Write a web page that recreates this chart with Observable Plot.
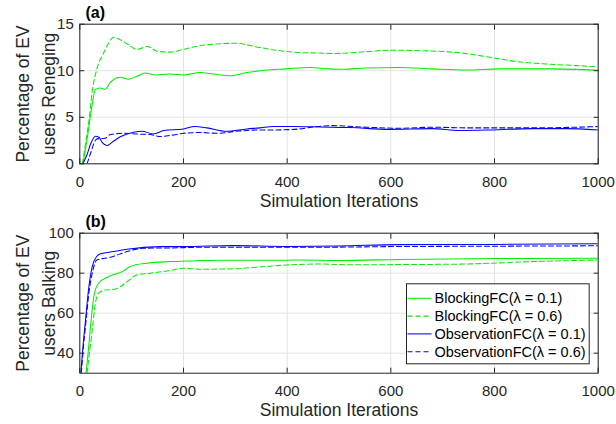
<!DOCTYPE html>
<html><head><meta charset="utf-8">
<script src="https://cdn.jsdelivr.net/npm/d3@7"></script>
<script src="https://cdn.jsdelivr.net/npm/@observablehq/plot@0.6"></script>
<style>
body{margin:0;background:#fff;}
#wrap{position:relative;width:616px;height:424px;font-family:"Liberation Sans",Arial,sans-serif;overflow:hidden;}
#wrap svg{display:block;}
#legend{position:absolute;left:0;top:0;pointer-events:none;}
</style></head><body><div id="wrap"></div>
<script>
// ---------- data ----------
const seriesNames = ["BlockingFC(λ = 0.1)", "BlockingFC(λ = 0.6)", "ObservationFC(λ = 0.1)", "ObservationFC(λ = 0.6)"];
const xTicks = [0, 200, 400, 600, 800, 1000];
const renegeTicks = [0, 5, 10, 15];
const balkTicks = [40, 60, 80, 100];

// (a) Reneging
const renegeBlock01X = [6, 15, 24, 30, 40, 49, 59, 78, 94, 110, 126, 146, 174, 200, 232, 258, 290, 322, 348, 399, 444, 480, 507, 553, 617, 680, 745, 809, 905, 1000];
const renegeBlock01Y = [0, 3.0, 6.4, 8.0, 8.15, 8.0, 8.75, 9.3, 9.1, 9.4, 9.75, 9.55, 9.65, 9.55, 9.8, 9.65, 9.46, 9.8, 10.0, 10.2, 10.35, 10.2, 10.15, 10.3, 10.35, 10.2, 10.08, 10.2, 10.2, 10.05];
const renegeBlock06X = [5, 12, 18, 24, 33, 45, 55, 65, 75, 91, 110, 130, 149, 174, 200, 232, 271, 300, 347, 380, 425, 463, 488, 553, 597, 661, 745, 796, 841, 905, 960, 1000];
const renegeBlock06Y = [0, 2.5, 4.8, 7.8, 10.2, 11.8, 12.9, 13.6, 13.4, 12.9, 12.3, 12.6, 12.1, 12.0, 12.3, 12.7, 12.9, 12.95, 12.5, 12.2, 11.95, 11.9, 11.85, 12.05, 12.2, 12.15, 11.85, 11.4, 11.0, 10.7, 10.55, 10.4];
const renegeObs01X = [6, 14, 21, 30, 37, 43, 53, 62, 78, 104, 120, 142, 162, 200, 222, 245, 283, 322, 348, 373, 412, 463, 520, 597, 680, 732, 796, 873, 937, 1000];
const renegeObs01Y = [0, 1.0, 2.15, 2.96, 2.85, 2.3, 1.96, 2.3, 2.9, 3.4, 3.5, 3.2, 3.57, 3.75, 4.0, 3.86, 3.5, 3.75, 3.86, 4.0, 4.0, 3.95, 3.9, 3.7, 3.78, 3.57, 3.64, 3.78, 3.78, 3.64];
const renegeObs06X = [14, 20, 27, 33, 49, 59, 85, 110, 136, 155, 175, 200, 232, 264, 303, 348, 380, 424, 456, 488, 553, 617, 680, 745, 809, 873, 1000];
const renegeObs06Y = [0, 1.0, 2.15, 2.68, 2.75, 3.14, 3.28, 3.2, 3.14, 2.93, 3.05, 3.28, 3.36, 3.28, 3.5, 3.64, 3.64, 3.75, 4.0, 4.1, 3.93, 3.82, 3.93, 3.86, 3.86, 3.86, 4.0];

// (b) Balking
const balkBlock01X = [12, 16, 20, 24, 27, 36, 53, 69, 82, 97, 129, 174, 232, 271, 400, 424, 500, 617, 809, 1000];
const balkBlock01Y = [30, 40, 51.5, 62, 68.2, 75, 78, 79.6, 80.8, 83.3, 85, 85.8, 86.3, 86.5, 86.5, 86.6, 86.4, 86.9, 87.3, 87.5];
const balkBlock06X = [14, 19, 24, 30, 36, 49, 65, 78, 91, 110, 136, 174, 200, 232, 296, 350, 399, 463, 520, 617, 745, 873, 1000];
const balkBlock06Y = [30, 41, 51.5, 64.9, 69.9, 71.6, 71.9, 73.2, 75.7, 79.1, 80, 81.3, 82.5, 82, 82.2, 83.2, 84.1, 84.6, 84.2, 84.3, 84.6, 85.8, 86.6];
const balkObs01X = [2, 6, 11, 17.5, 24, 33, 40, 65, 91, 155, 200, 296, 400, 500, 617, 800, 1000];
const balkObs01Y = [30, 43, 56.5, 73.2, 83.3, 88.5, 89.7, 90.8, 92, 93.3, 93.3, 93.8, 93.4, 93.6, 94.3, 94.4, 94.7];
const balkObs06X = [3, 7, 12, 18, 24, 33, 59, 91, 123, 167, 250, 350, 463, 600, 800, 1000];
const balkObs06Y = [30, 43, 56, 71, 80, 86.6, 88, 90.8, 92.5, 92.6, 93.0, 93.0, 93.0, 93.3, 93.5, 93.7];

// ---------- build tables ----------
const toRows = (xs, ys, s) => xs.map((x, i) => ({x, y: ys[i], s}));
const renege = [
  toRows(renegeBlock01X, renegeBlock01Y, 0), toRows(renegeBlock06X, renegeBlock06Y, 1),
  toRows(renegeObs01X, renegeObs01Y, 2), toRows(renegeObs06X, renegeObs06Y, 3)
];
const balk = [
  toRows(balkBlock01X, balkBlock01Y, 0), toRows(balkBlock06X, balkBlock06Y, 1),
  toRows(balkObs01X, balkObs01Y, 2), toRows(balkObs06X, balkObs06Y, 3)
];

const GREEN = "#00ee00", BLUE = "#0000ff", INK = "#262626", GRID = "#e3e3e3";
const colorOf = [GREEN, GREEN, BLUE, BLUE];
const dashOf = [null, "5,3", null, "5,3"];
const fmt = d => String(d);

function panel({series, yDomain, yTicks, title, ylabel, marginTop, marginBottom}) {
  const lines = series.map((rows, k) => Plot.line(rows, {
    x: "x", y: "y", stroke: colorOf[k], strokeWidth: 1.05,
    strokeDasharray: dashOf[k], curve: "monotone-x", clip: true
  }));
  return Plot.plot({
    width: 616, height: 212,
    marginLeft: 79.3, marginRight: 18.3, marginTop, marginBottom,
    style: {fontFamily: '"Liberation Sans", Arial, sans-serif', fontSize: "15px", color: INK, background: "#fff", overflow: "visible"},
    x: {domain: [0, 1000], label: null},
    y: {domain: yDomain, label: null},
    marks: [
      Plot.gridX(xTicks, {stroke: GRID, strokeOpacity: 1}),
      Plot.gridY(yTicks, {stroke: GRID, strokeOpacity: 1}),
      ...lines,
      Plot.frame({stroke: INK, strokeWidth: 1}),
      Plot.axisX(xTicks, {anchor: "bottom", tickSize: 5, dy: -5, text: null, stroke: INK, label: null}),
      Plot.axisX(xTicks, {anchor: "top", tickSize: 5, dy: 5, text: null, stroke: INK, label: null}),
      Plot.axisX(xTicks, {anchor: "bottom", tickSize: 0, tickPadding: 12.5, tickFormat: fmt, fill: INK, fontSize: 15, label: null}),
      Plot.axisY(yTicks, {anchor: "left", tickSize: 5, dx: 5, text: null, stroke: INK, label: null}),
      Plot.axisY(yTicks, {anchor: "right", tickSize: 5, dx: -5, text: null, stroke: INK, label: null}),
      Plot.axisY(yTicks, {anchor: "left", tickSize: 0, tickPadding: 6, tickFormat: fmt, fill: INK, fontSize: 15, label: null}),
      Plot.text(["Simulation Iterations"], {frameAnchor: "bottom", dy: 37.5, lineAnchor: "middle", textAnchor: "middle", text: d => d, fontSize: 17.5, fill: INK}),
      Plot.text([ylabel], {frameAnchor: "left", rotate: -90, dx: -46, lineAnchor: "middle", textAnchor: "middle", lineHeight: 1.49, text: d => d, fontSize: 17.5, fill: INK}),
      Plot.text([title], {frameAnchor: "top-left", dx: 5.7, dy: -11, textAnchor: "start", lineAnchor: "middle", text: d => d, fontSize: 16, fontWeight: "bold", fill: "#000"})
    ]
  });
}

const wrap = document.getElementById("wrap");
wrap.appendChild(panel({series: renege, yDomain: [0, 15], yTicks: renegeTicks, title: "(a)",
  ylabel: "Percentage of EV\nusers Reneging", marginTop: 23.7, marginBottom: 48.7}));
wrap.appendChild(panel({series: balk, yDomain: [30, 100], yTicks: balkTicks, title: "(b)",
  ylabel: "Percentage of EV\nusers Balking", marginTop: 20.7, marginBottom: 51.3}));

// ---------- legend (overlay) ----------
const lg = d3.select(wrap).append("svg").attr("id", "legend").attr("width", 616).attr("height", 424);
const box = {x: 406, y: 283.3, w: 182.7, h: 80};
lg.append("rect").attr("x", box.x + 0.5).attr("y", box.y + 0.5).attr("width", box.w).attr("height", box.h)
  .attr("fill", "#fff").attr("stroke", INK).attr("stroke-width", 1);
seriesNames.forEach((name, k) => {
  const cy = 298.3 + k * 17.8;
  lg.append("line").attr("x1", 407.5).attr("x2", 431.5).attr("y1", cy).attr("y2", cy)
    .attr("stroke", colorOf[k]).attr("stroke-width", 1.05).attr("stroke-dasharray", dashOf[k]);
  lg.append("text").attr("x", 434.5).attr("y", cy).attr("dy", "0.35em")
    .attr("font-family", '"Liberation Sans", Arial, sans-serif').attr("font-size", 14.5)
    .attr("fill", "#000").text(name);
});
</script></body></html>
